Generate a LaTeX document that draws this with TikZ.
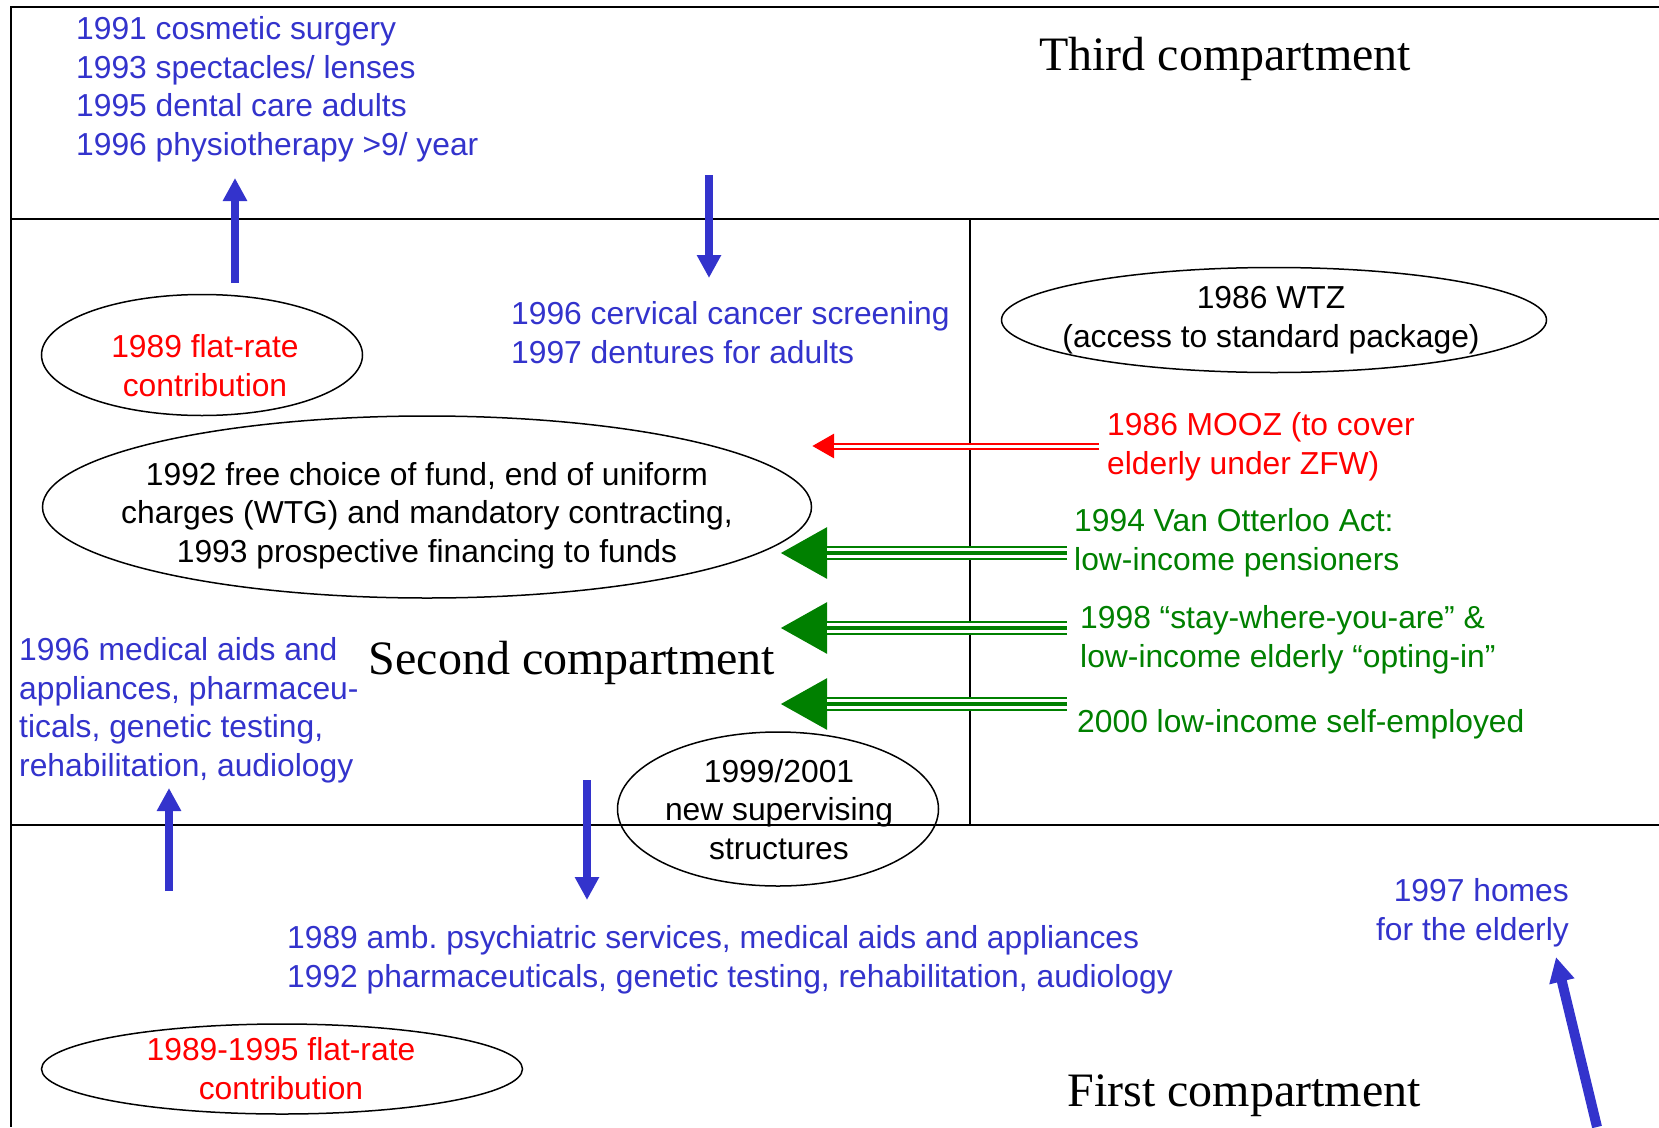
\documentclass[tikz,border=0pt]{standalone}
\usepackage{fontspec}
\setmainfont{Liberation Sans}
\newfontfamily\seriffont{Liberation Serif}
\usetikzlibrary{arrows.meta,shapes.geometric}
\definecolor{myblue}{RGB}{51,51,204}
\definecolor{mygreen}{RGB}{0,128,0}
\definecolor{myred}{RGB}{255,0,0}
\begin{document}
\begin{tikzpicture}[x=1pt,y=-1pt,
  txt/.style={inner sep=0pt, font=\fontsize{31.8}{38.5}\selectfont},
  bluetxt/.style={txt, text=myblue},
  redtxt/.style={txt, text=myred},
  greentxt/.style={txt, text=mygreen},
  blacktxt/.style={txt, text=black},
  oval/.style={ellipse, draw=black, line width=1.5pt, inner sep=0pt},
  titletxt/.style={inner sep=0pt, font=\seriffont\fontsize{48}{58}\selectfont},
  framelines/.style={line width=2pt, black},
  bluearrow/.style={myblue, line width=8pt, -{Triangle[length=23pt,width=23pt]}},
  greenouter/.style={mygreen, line width=14pt, -{Triangle[length=47pt,width=48pt]}},
  greengap/.style={white, line width=10pt, shorten >=47pt},
  greenmid/.style={mygreen, line width=4pt, shorten >=47pt},
  redouter/.style={myred, line width=7pt, -{Triangle[length=22pt,width=23pt]}},
  redgap/.style={white, line width=3pt, shorten >=22pt}
]
\useasboundingbox (0,0) rectangle (1659,1127);
% frame
\draw[framelines] (1659,7) -- (11,7) -- (11,1127);
\draw[framelines] (11,219) -- (1659,219);
\draw[framelines] (11,825) -- (1659,825);
\draw[framelines] (970,219) -- (970,825);

% third compartment
\node[bluetxt, anchor=base west, align=left] (t3list) at (76,155)
  {1991 cosmetic surgery\\1993 spectacles/ lenses\\1995 dental care adults\\1996 physiotherapy >9/ year};
\node[titletxt, anchor=base] (third) at (1225,70) {Third compartment};

% arrows between third and second
\coordinate (a1s) at (235,283); \coordinate (a1e) at (235,178);
\draw[bluearrow] (a1s) -- (a1e);
\coordinate (a2s) at (709,175); \coordinate (a2e) at (709,278);
\draw[bluearrow] (a2s) -- (a2e);

% second compartment
\node[oval, minimum width=321pt, minimum height=121pt] (e1) at (202,355) {};
\node[redtxt, align=center, anchor=base] (e1t) at (205,396) {1989 flat-rate\\contribution};

\node[bluetxt, anchor=base west, align=left] (cerv) at (511,363)
  {1996 cervical cancer screening\\1997 dentures for adults};

\node[oval, minimum width=545pt, minimum height=105pt] (wtz) at (1274,320) {};
\node[blacktxt, align=center, anchor=base] (wtzt) at (1271,347) {1986 WTZ\\(access to standard package)};

\node[redtxt, anchor=base west, align=left] (mooz) at (1107,474) {1986 MOOZ (to cover\\elderly under ZFW)};

\coordinate (rs) at (1099,446); \coordinate (re) at (812,446);
\draw[redouter] (rs) -- (re);
\draw[redgap] (rs) -- (re);

\node[oval, minimum width=769pt, minimum height=182pt] (e2) at (427,507) {};
\node[blacktxt, align=center, anchor=base] (e2t) at (427,562)
  {1992 free choice of fund, end of uniform\\charges (WTG) and mandatory contracting,\\1993 prospective financing to funds};

\node[greentxt, anchor=base west, align=left] (g1t) at (1074,570) {1994 Van Otterloo Act:\\low-income pensioners};
\node[greentxt, anchor=base west, align=left] (g2t) at (1080,667) {1998 “stay-where-you-are” \&\\low-income elderly “opting-in”};
\node[greentxt, anchor=base west] (g3t) at (1077,732) {2000 low-income self-employed};

\coordinate (g1s) at (1067,553); \coordinate (g1e) at (780,553);
\coordinate (g2s) at (1067,628); \coordinate (g2e) at (780,628);
\coordinate (g3s) at (1067,704); \coordinate (g3e) at (780,704);
\foreach \g in {g1,g2,g3}{
  \draw[greenouter] (\g s) -- (\g e);
  \draw[greengap] (\g s) -- (\g e);
  \draw[greenmid] (\g s) -- (\g e);
}

\node[titletxt, anchor=base] (second) at (572,674) {Second compartment};

\node[bluetxt, anchor=base west, align=left] (leftlist) at (19,776)
  {1996 medical aids and\\appliances, pharmaceu-\\ticals, genetic testing,\\rehabilitation, audiology};

% arrows between second and first
\coordinate (a3s) at (169,891); \coordinate (a3e) at (169,788);
\draw[bluearrow] (a3s) -- (a3e);
\coordinate (a4s) at (587,780); \coordinate (a4e) at (587,900);
\draw[bluearrow] (a4s) -- (a4e);

\node[oval, minimum width=321pt, minimum height=154pt] (e3) at (778,809) {};
\node[blacktxt, align=center, anchor=base] (e3t) at (779,859) {1999/2001\\new supervising\\structures};

% first compartment
\node[bluetxt, anchor=base west, align=left] (bottomlist) at (287,987)
  {1989 amb.\ psychiatric services, medical aids and appliances\\1992 pharmaceuticals, genetic testing, rehabilitation, audiology};

\node[bluetxt, anchor=base east, align=right] (homes) at (1569,940) {1997 homes\\for the elderly};
\coordinate (a5s) at (1597,1127); \coordinate (a5e) at (1556,957);
\draw[myblue, line width=10pt, -{Triangle[length=25pt,width=24pt]}] (a5s) -- (a5e);

\node[oval, minimum width=481pt, minimum height=90pt] (e4) at (282,1069) {};
\node[redtxt, align=center, anchor=base] (e4t) at (281,1099) {1989-1995 flat-rate\\contribution};

\node[titletxt, anchor=base] (first) at (1244,1106) {First compartment};
\end{tikzpicture}
\end{document}
